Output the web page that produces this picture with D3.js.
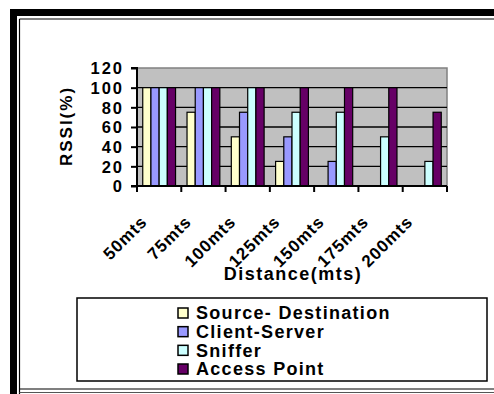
<!DOCTYPE html>
<html>
<head>
<meta charset="utf-8">
<script src="https://cdn.jsdelivr.net/npm/d3@7"></script>
<style>
  body { margin: 0; background: #fff; }
  svg text { font-family: Arial, "Liberation Sans", sans-serif; font-weight: bold; fill: #000; }
</style>
</head>
<body>
<div id="chart"></div>
<script>
// categories and series
const distances = ["50mts", "75mts", "100mts", "125mts", "150mts", "175mts", "200mts"];
const seriesNames = ["Source- Destination", "Client-Server", "Sniffer", "Access Point"];
const seriesColors = ["#FFFFCC", "#9999FF", "#CCFFFF", "#660066"];
const sourceDest = [100, 75, 50, 25, 0, 0, 0];
const clientServer = [100, 100, 75, 50, 25, 0, 0];
const sniffer = [100, 100, 100, 75, 75, 50, 25];
const accessPoint = [100, 100, 100, 100, 100, 100, 75];
const yTicks = [0, 20, 40, 60, 80, 100, 120];

const seriesValues = [sourceDest, clientServer, sniffer, accessPoint];

const W = 494, H = 394;
const svg = d3.select("#chart").append("svg")
    .attr("width", W)
    .attr("height", H);

// outer frame (thick black on top/left, thin lines inside)
svg.append("rect").attr("x", 10).attr("y", 9).attr("width", W).attr("height", 7).attr("fill", "#000");
svg.append("rect").attr("x", 10).attr("y", 9).attr("width", 7).attr("height", H).attr("fill", "#000");
svg.append("line").attr("x1", 19.5).attr("x2", W).attr("y1", 19).attr("y2", 19).attr("stroke", "#000").attr("stroke-width", 1.2);
svg.append("line").attr("x1", 19.5).attr("x2", 19.5).attr("y1", 19).attr("y2", H).attr("stroke", "#000").attr("stroke-width", 1.2);
svg.append("line").attr("x1", 19.5).attr("x2", W).attr("y1", 389).attr("y2", 389).attr("stroke", "#000").attr("stroke-width", 1.2);
svg.append("line").attr("x1", 19.5).attr("x2", W).attr("y1", 392.5).attr("y2", 392.5).attr("stroke", "#555").attr("stroke-width", 1);

// plot area
const plot = {left: 137, right: 447, top: 68, bottom: 186};

const x0 = d3.scaleBand()
    .domain(distances)
    .range([plot.left, plot.right])
    .paddingInner(0)
    .paddingOuter(0);
const x1 = d3.scaleBand()
    .domain(seriesNames)
    .range([0, x0.bandwidth()])
    .paddingOuter(0.7)
    .paddingInner(0);
const y = d3.scaleLinear()
    .domain([0, 120])
    .range([plot.bottom, plot.top]);

svg.append("rect")
    .attr("x", plot.left).attr("y", plot.top)
    .attr("width", plot.right - plot.left).attr("height", plot.bottom - plot.top)
    .attr("fill", "#C0C0C0")
    .attr("stroke", "#808080")
    .attr("stroke-width", 1.5);

// gridlines
svg.append("g").selectAll("line")
    .data(yTicks.filter(t => t > 0 && t < 120))
    .join("line")
    .attr("x1", plot.left).attr("x2", plot.right)
    .attr("y1", d => y(d)).attr("y2", d => y(d))
    .attr("stroke", "#000")
    .attr("stroke-width", 1.3);

// bars
const groups = svg.append("g").selectAll("g")
    .data(distances)
    .join("g")
    .attr("transform", d => `translate(${x0(d)},0)`);

groups.selectAll("rect")
    .data((d, i) => seriesNames.map((s, k) => ({s, k, v: seriesValues[k][i]})).filter(e => e.v > 0))
    .join("rect")
    .attr("x", e => x1(e.s))
    .attr("y", e => y(e.v))
    .attr("width", x1.bandwidth())
    .attr("height", e => y(0) - y(e.v))
    .attr("fill", e => seriesColors[e.k])
    .attr("stroke", "#000")
    .attr("stroke-width", 1.2);

// y axis
const yAxis = d3.axisLeft(y).tickValues(yTicks).tickSize(6).tickPadding(7);
const yg = svg.append("g")
    .attr("transform", `translate(${plot.left},0)`)
    .call(yAxis);
yg.select(".domain").attr("stroke-width", 2).attr("d", `M-6,${plot.top}H0V${plot.bottom}H-6`);
yg.selectAll(".tick line").attr("stroke-width", 2);
yg.selectAll(".tick text")
    .style("font-size", "16.5px")
    .style("letter-spacing", "2px")
    .attr("dy", "0.36em");

// x axis
const xAxis = d3.axisBottom(x0).tickSize(0).tickFormat("");
const xg = svg.append("g")
    .attr("transform", `translate(0,${plot.bottom})`)
    .call(xAxis);
xg.select(".domain").attr("stroke-width", 2).attr("d", `M${plot.left},0H${plot.right}`);
xg.selectAll(".bound")
    .data(d3.range(distances.length + 1))
    .join("line")
    .attr("class", "bound")
    .attr("x1", i => plot.left + i * x0.step())
    .attr("x2", i => plot.left + i * x0.step())
    .attr("y1", 0).attr("y2", 6)
    .attr("stroke", "#000")
    .attr("stroke-width", 2);

svg.append("g").selectAll("text")
    .data(distances)
    .join("text")
    .attr("transform", d => `translate(${x0(d) + x0.bandwidth() / 2 - 11},${plot.bottom + 37}) rotate(-45)`)
    .attr("text-anchor", "end")
    .style("font-size", "17px")
    .style("letter-spacing", "0.9px")
    .text(d => d);

// axis titles
svg.append("text")
    .attr("x", 293).attr("y", 280)
    .attr("text-anchor", "middle")
    .style("font-size", "18px")
    .style("letter-spacing", "1.5px")
    .text("Distance(mts)");

svg.append("text")
    .attr("transform", "translate(72,126) rotate(-90)")
    .attr("text-anchor", "middle")
    .style("font-size", "17px")
    .style("letter-spacing", "2px")
    .text("RSSI(%)");

// legend
const legend = svg.append("g");
legend.append("rect")
    .attr("x", 77).attr("y", 298)
    .attr("width", 410).attr("height", 83)
    .attr("fill", "#fff")
    .attr("stroke", "#000")
    .attr("stroke-width", 1.5);

const ly = d3.scalePoint().domain(seriesNames).range([313, 369]);
const items = legend.selectAll("g.item")
    .data(seriesNames)
    .join("g")
    .attr("class", "item")
    .attr("transform", d => `translate(0,${ly(d)})`);
items.append("rect")
    .attr("x", 178).attr("y", -5)
    .attr("width", 10).attr("height", 10)
    .attr("fill", (d, i) => seriesColors[i])
    .attr("stroke", "#000")
    .attr("stroke-width", 1.5);
items.append("text")
    .attr("x", 196).attr("y", 0)
    .attr("dy", "0.36em")
    .style("font-size", "18px")
    .style("letter-spacing", "1.3px")
    .text(d => d);
</script>
</body>
</html>
